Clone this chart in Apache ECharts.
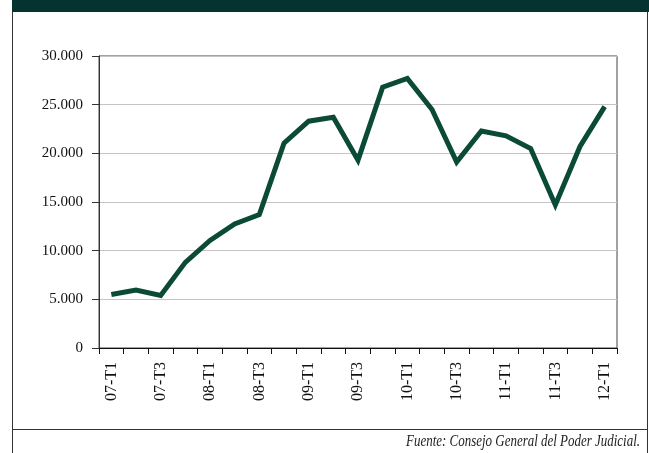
<!DOCTYPE html>
<html>
<head>
<meta charset="utf-8">
<script src="https://cdn.jsdelivr.net/npm/echarts@6/dist/echarts.min.js"></script>
<style>
html,body{margin:0;padding:0;background:#fff;}
#c{width:649px;height:453px;}
</style>
</head>
<body>
<div id="c"></div>
<script>
const categories = ['07-T1','07-T2','07-T3','07-T4','08-T1','08-T2','08-T3','08-T4','09-T1','09-T2','09-T3','09-T4','10-T1','10-T2','10-T3','10-T4','11-T1','11-T2','11-T3','11-T4','12-T1'];
const values = [5500,5950,5400,8800,11050,12750,13700,21050,23300,23700,19300,26800,27700,24500,19100,22300,21800,20500,14700,20700,24800];
const yTicks = [0,5000,10000,15000,20000,25000,30000];
const sourceText = 'Fuente: Consejo General del Poder Judicial.';

const serif = "'Liberation Serif','Times New Roman',serif";
function fmt(v){ return String(v).replace(/\B(?=(\d{3})+(?!\d))/g,'.'); }

const chart = echarts.init(document.getElementById('c'), null, {renderer:'canvas'});
chart.setOption({
  animation:false,
  backgroundColor:'#fff',
  graphic:[
    {type:'rect', shape:{x:12,y:0,width:637,height:12}, style:{fill:'#053330'}, z:10},
    {type:'line', shape:{x1:12.5,y1:12,x2:12.5,y2:453}, style:{stroke:'#333',lineWidth:1}},
    {type:'line', shape:{x1:647.5,y1:12,x2:647.5,y2:453}, style:{stroke:'#333',lineWidth:1}},
    {type:'line', shape:{x1:12,y1:429.5,x2:648,y2:429.5}, style:{stroke:'#333',lineWidth:1}},
    {type:'text', x:640, y:434, scaleX:0.81, style:{text:sourceText, font:"italic 16px 'Liberation Serif',serif", fill:'#222', textAlign:'right', textVerticalAlign:'top'}}
  ],
  grid:{left:99,right:32,top:56,bottom:105,show:true,borderColor:'#444',borderWidth:1},
  xAxis:{
    type:'category',
    data:categories,
    boundaryGap:true,
    axisLine:{lineStyle:{color:'#111',width:1}},
    axisTick:{show:true,interval:0,length:6,lineStyle:{color:'#111'}},
    axisLabel:{interval:1,rotate:90,margin:14,color:'#111',fontFamily:serif,fontSize:16}
  },
  yAxis:{
    type:'value',
    min:yTicks[0],
    max:yTicks[yTicks.length-1],
    interval:yTicks[1]-yTicks[0],
    axisLine:{show:true,lineStyle:{color:'#333',width:1}},
    axisTick:{show:true,length:7,lineStyle:{color:'#333'}},
    axisLabel:{margin:16,color:'#111',fontFamily:serif,fontSize:15,formatter:fmt},
    splitLine:{show:true,lineStyle:{color:'#c4c4c4',width:1}}
  },
  series:[{
    type:'line',
    data:values,
    symbol:'none',
    lineStyle:{color:'#0b4a36',width:5,join:'miter'},
    z:5
  }]
});
</script>
</body>
</html>
